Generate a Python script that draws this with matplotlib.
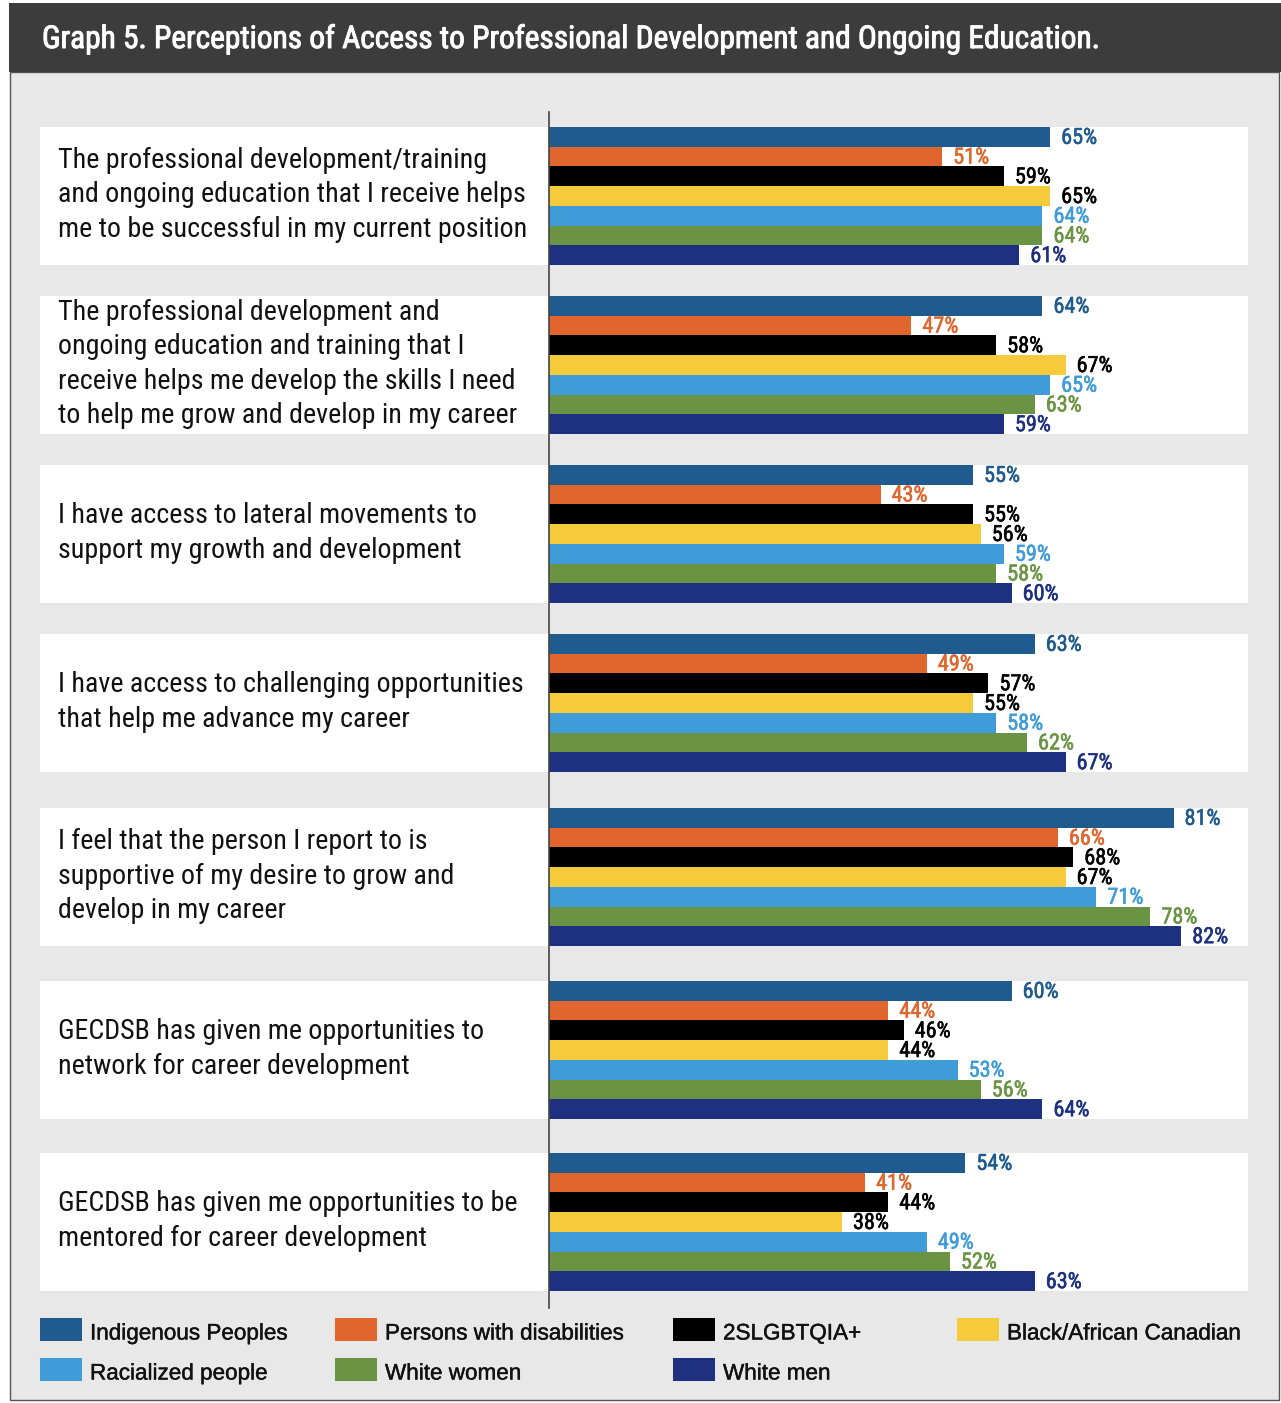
import matplotlib
matplotlib.use("Agg")
import matplotlib.pyplot as plt
import matplotlib.patheffects as pe
from matplotlib import font_manager
from matplotlib.patches import Rectangle

W, H = 1281, 1403

questions = [
    "The professional development/training\nand ongoing education that I receive helps\nme to be successful in my current position",
    "The professional development and\nongoing education and training that I\nreceive helps me develop the skills I need\nto help me grow and develop in my career",
    "I have access to lateral movements to\nsupport my growth and development",
    "I have access to challenging opportunities\nthat help me advance my career",
    "I feel that the person I report to is\nsupportive of my desire to grow and\ndevelop in my career",
    "GECDSB has given me opportunities to\nnetwork for career development",
    "GECDSB has given me opportunities to be\nmentored for career development",
]

groups = ["Indigenous Peoples", "Persons with disabilities", "2SLGBTQIA+",
          "Black/African Canadian", "Racialized people", "White women", "White men"]

indigenous = [65, 64, 55, 63, 81, 60, 54]
disabilities = [51, 47, 43, 49, 66, 44, 41]
lgbtq = [59, 58, 55, 57, 68, 46, 44]
black_african = [65, 67, 56, 55, 67, 44, 38]
racialized = [64, 65, 59, 58, 71, 53, 49]
white_women = [64, 63, 58, 62, 78, 56, 52]
white_men = [61, 59, 60, 67, 82, 64, 63]

series = [indigenous, disabilities, lgbtq, black_african, racialized, white_women, white_men]
colors = ["#1f5b8e", "#e0662e", "#000000", "#f5cb3b", "#3f9cd8", "#6a9443", "#1e3180"]
label_colors = ["#1f5b8e", "#e0662e", "#000000", "#000000", "#3f9cd8", "#6a9443", "#1e3180"]


def pick_font(names):
    for name in names:
        try:
            font_manager.findfont(font_manager.FontProperties(family=name),
                                  fallback_to_default=False)
            return name
        except Exception:
            continue
    return "DejaVu Sans"


NARROW = pick_font(["Roboto Condensed", "Liberation Sans Narrow", "DejaVu Sans"])
REGULAR = pick_font(["Liberation Sans", "Arial", "DejaVu Sans"])


def fx(x):
    return x / W


def fy(y):
    return 1 - y / H


def fig_rect(fig, x0, y0, x1, y1, **kw):
    fig.add_artist(Rectangle((fx(x0), fy(y1)), fx(x1) - fx(x0), fy(y0) - fy(y1),
                             transform=fig.transFigure, **kw))


def heavier(color, lw):
    # thicken regular glyphs a little to get a medium weight
    return [pe.withStroke(linewidth=lw, foreground=color)]


fig = plt.figure(figsize=(W / 100, H / 100), dpi=100)
fig.patch.set_facecolor("white")

# panel, title bar and white row bands
fig_rect(fig, 10, 72, 1279, 1400, facecolor="#e8e8e8", edgecolor="#555555",
         linewidth=1, zorder=-3)
fig_rect(fig, 9, 3, 1281, 72, facecolor="#3c3c3c", edgecolor="none", zorder=-2)
fig.text(fx(42), fy(39), "Graph 5. Perceptions of Access to Professional Development and Ongoing Education.",
         color="white", fontsize=22.6, fontfamily=NARROW, fontweight="normal",
         va="center", ha="left", path_effects=heavier("white", 0.7))

band_tops = [127, 296, 465, 634, 808, 981, 1153]
bar_h = 138 / 7
band_h = 138

for top, q in zip(band_tops, questions):
    fig_rect(fig, 40, top, 1248, top + band_h, facecolor="white",
             edgecolor="none", zorder=-1)
    fig.text(fx(58), fy(top + band_h / 2 - 1), q, fontsize=20.2, fontfamily=NARROW,
             color="#111111", va="center", ha="left", linespacing=1.34)

# bars: 0% sits on the axis line, 7.71 px per percentage point
px_per_pct = 7.71
ax = fig.add_axes([fx(549), fy(1308), fx(1248) - fx(549), fy(112) - fy(1308)])
ax.set_facecolor("none")
ax.set_xlim(0, (1248 - 549) / px_per_pct)
ax.set_ylim(1308, 112)

for k, (vals, c, lc) in enumerate(zip(series, colors, label_colors)):
    ys = [top + (k + 0.5) * bar_h for top in band_tops]
    ax.barh(ys, vals, height=bar_h, color=c, edgecolor="none")
    for y, v in zip(ys, vals):
        ax.text(v + 11 / px_per_pct, y + 1.5, f"{v}%", color=lc, fontsize=16,
                fontfamily=NARROW, fontweight="normal", va="center", ha="left",
                path_effects=heavier(lc, 0.4))

for s in ["top", "right", "bottom"]:
    ax.spines[s].set_visible(False)
ax.spines["left"].set_color("#444444")
ax.spines["left"].set_linewidth(1.2)
ax.set_xticks([])
ax.set_yticks([])

# legend
legend_x = [40, 335, 673, 957, 40, 335, 673]
legend_y = [1330, 1330, 1330, 1330, 1370, 1370, 1370]
for name, c, lx, ly in zip(groups, colors, legend_x, legend_y):
    fig_rect(fig, lx, ly - 12, lx + 42, ly + 11, facecolor=c, edgecolor="none", zorder=1)
    fig.text(fx(lx + 50), fy(ly + 4), name, fontsize=16.2, fontfamily=REGULAR,
             color="#111111", va="center", ha="left",
             path_effects=heavier("#111111", 0.3))

fig.savefig("out.png", dpi=100)
